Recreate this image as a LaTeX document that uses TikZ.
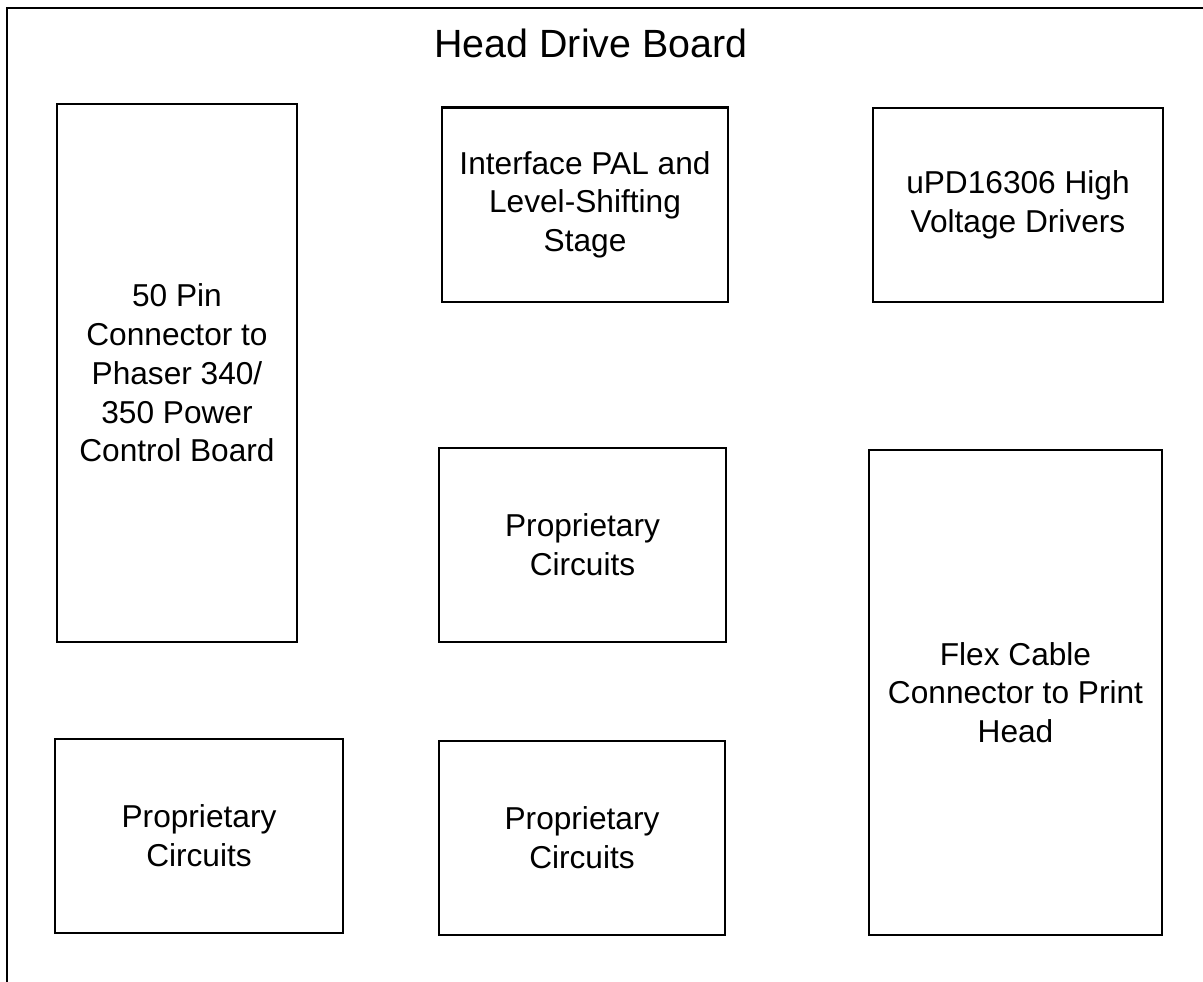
\documentclass[tikz,border=0pt]{standalone}
\usepackage{fontspec}
\setmainfont{Liberation Sans}

\tikzset{
  blk/.style={draw, line width=0.6pt, align=center, inner sep=0pt,
    font=\fontsize{9}{11}\selectfont}
}

\begin{document}
\begin{tikzpicture}[x=0.01cm, y=-0.01cm]
    \useasboundingbox (0,0) rectangle (1203,981);
    % board outline
    \draw[line width=0.8pt] (1210,8) -- (7,8) -- (7,990);
    \node[font=\fontsize{11.2}{13}\selectfont] (title) at (591,43) {Head Drive Board};
    % blocks
    \node[blk, minimum width=2.40cm, minimum height=5.38cm] (pin) at (177,373)
        {50 Pin\\Connector to\\Phaser 340/\\350 Power\\Control Board};
    \node[blk, minimum width=2.86cm, minimum height=1.94cm] (pal) at (585,204.5)
        {Interface PAL and\\Level-Shifting\\Stage};
    \node[blk, minimum width=2.90cm, minimum height=1.94cm] (upd) at (1018,205)
        {uPD16306 High\\Voltage Drivers};
    \node[blk, minimum width=2.87cm, minimum height=1.94cm] (propA) at (582.5,545)
        {Proprietary\\Circuits};
    \node[blk, minimum width=2.93cm, minimum height=4.85cm] (flex) at (1015.5,692.5)
        {Flex Cable\\Connector to Print\\Head};
    \node[blk, minimum width=2.88cm, minimum height=1.94cm] (propB) at (199,836)
        {Proprietary\\Circuits};
    \node[blk, minimum width=2.86cm, minimum height=1.94cm] (propC) at (582,838)
        {Proprietary\\Circuits};
\end{tikzpicture}
\end{document}
